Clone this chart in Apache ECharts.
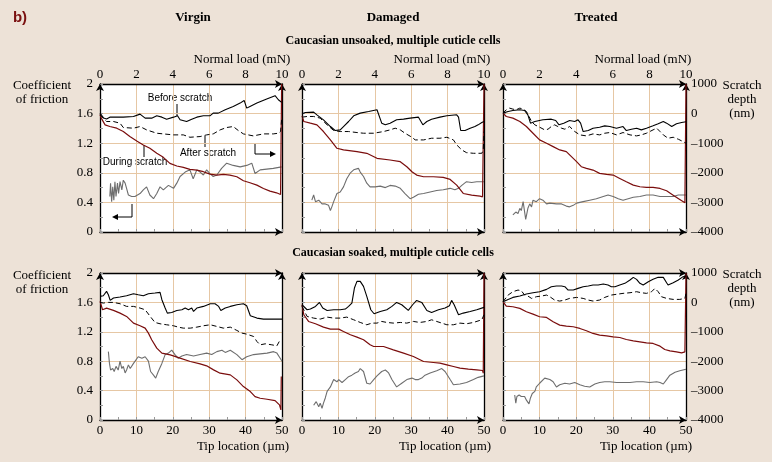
<!DOCTYPE html>
<html><head><meta charset="utf-8">
<script src="https://cdn.jsdelivr.net/npm/echarts@6/dist/echarts.min.js"></script>
<style>html,body{margin:0;padding:0;background:#ede2d7}#c{width:772px;height:462px}</style>
</head><body><div id="c"></div>
<script>
// ---------- labels ----------
const columnTitles = ['Virgin', 'Damaged', 'Treated'];
const rowTitles = ['Caucasian unsoaked, multiple cuticle cells', 'Caucasian soaked, multiple cuticle cells'];
const tipTicks = [0, 10, 20, 30, 40, 50];        // µm
const loadTicks = [0, 2, 4, 6, 8, 10];           // mN
const frictionTicks = [0, 0.4, 0.8, 1.2, 1.6, 2];
const depthTicks = [-4000, -3000, -2000, -1000, 0, 1000]; // nm

// ---------- data: [tip location µm, value] ----------
// Panel 1: unsoaked, virgin
const p1Before = [[0,16],[1.0,-150],[1.8,-180],[2.7,-120],[6.4,-120],[9.2,-97],[11.0,-18],[12.4,-154],[14.2,-154],[15.6,-75],[17.0,-120],[18.3,-188],[20.2,-120],[21.3,-75],[22.0,-210],[23.8,-267],[25.2,-188],[26.6,-120],[28.4,-75],[30.2,-75],[31.1,16],[32.5,16],[34.4,129],[36.6,242],[38.5,355],[39.6,445],[40.3,185],[41.2,242],[43.1,355],[45.8,491],[48.1,604],[49.0,468],[49.9,378]];
const p1After = [[0,-41],[1.8,-267],[3.7,-267],[5.5,-324],[6.4,-470],[9.2,-493],[11.0,-437],[12.8,-550],[15.6,-663],[17.4,-686],[20.2,-719],[22.9,-719],[24.7,-799],[27.5,-776],[29.3,-719],[31.1,-686],[33.0,-550],[34.8,-470],[36.6,-437],[38.0,-572],[39.4,-686],[42.1,-753],[44.9,-686],[47.6,-686],[49.0,-663],[49.6,-606],[49.9,-210]];
const p1During = [[0,-41],[0.5,-188],[1.4,-380],[2.7,-437],[4.6,-493],[6.4,-606],[8.2,-776],[10.1,-923],[11.9,-1058],[13.7,-1172],[15.6,-1341],[17.4,-1477],[19.2,-1681],[21.1,-1771],[22.9,-1816],[24.7,-1884],[26.6,-1907],[28.4,-1963],[30.2,-2043],[32.1,-2077],[33.9,-2054],[35.7,-2077],[37.6,-2133],[39.4,-2269],[41.2,-2337],[43.1,-2416],[44.9,-2529],[46.7,-2619],[48.5,-2676],[49.6,-2732],[49.9,1000]];
const p1Friction = [[2.7,0.48],[2.9,0.66],[3.2,0.41],[3.5,0.61],[3.8,0.43],[4.1,0.68],[4.4,0.48],[4.8,0.66],[5.1,0.52],[5.5,0.68],[6.0,0.57],[6.4,0.70],[6.9,0.66],[7.3,0.59],[7.8,0.50],[8.7,0.48],[9.6,0.48],[11.0,0.52],[11.9,0.57],[12.8,0.61],[13.7,0.50],[14.7,0.45],[15.6,0.52],[16.5,0.61],[17.4,0.57],[18.8,0.63],[20.2,0.59],[21.1,0.66],[22.0,0.75],[23.4,0.81],[24.7,0.84],[25.6,0.72],[26.6,0.84],[27.5,0.81],[28.4,0.77],[29.3,0.84],[30.2,0.79],[31.1,0.75],[32.1,0.77],[33.4,0.86],[34.8,0.93],[36.6,0.90],[38.5,0.88],[40.3,0.90],[41.7,0.93],[42.6,0.79],[44.0,0.84],[45.8,0.85],[47.6,0.86],[49.9,0.88]];

// Panel 2: unsoaked, damaged
const p2Before = [[0,-7],[0.9,38],[3.2,50],[4.1,-41],[5.9,-210],[7.8,-437],[9.1,-572],[10.5,-550],[11.4,-437],[12.8,-267],[14.2,-75],[16.0,16],[18.3,72],[20.6,129],[21.0,129],[21.9,-324],[22.9,-380],[24.2,-324],[26.0,-210],[27.9,-188],[29.7,-154],[32.0,-120],[32.4,-97],[33.2,-380],[34.3,-267],[35.6,-188],[37.9,-120],[39.8,-75],[42.5,-41],[43.0,-120],[43.6,-572],[44.8,-572],[46.2,-493],[47.5,-437],[48.4,-380],[49.4,-301],[50,-267]];
const p2After = [[0,-120],[1.4,-97],[3.2,-97],[5.0,-154],[6.9,-380],[8.7,-572],[10.5,-606],[12.8,-606],[15.1,-640],[16.9,-663],[19.7,-663],[22.4,-606],[24.2,-550],[25.6,-493],[27.0,-550],[28.3,-663],[30.2,-799],[31.1,-889],[33.4,-889],[35.6,-832],[37.9,-832],[39.8,-799],[41.6,-889],[42.5,-1058],[43.9,-1228],[45.2,-1319],[47.1,-1341],[49.4,-1341],[49.8,-1228],[50,-606]];
const p2During = [[0,-75],[0.5,-267],[2.3,-324],[4.1,-380],[5.9,-606],[7.8,-889],[9.6,-1172],[11.4,-1228],[15.1,-1285],[17.8,-1341],[20.6,-1511],[24.2,-1567],[27.0,-1624],[28.8,-1794],[30.2,-1963],[31.5,-2077],[33.4,-2133],[36.1,-2133],[38.8,-2156],[40.7,-2224],[42.5,-2416],[44.3,-2699],[46.6,-2756],[48.9,-2789],[49.6,-2812],[50,1000]];
const p2Friction = [[2.7,0.43],[3.2,0.50],[3.7,0.41],[4.6,0.43],[5.5,0.38],[6.4,0.38],[7.3,0.36],[7.8,0.29],[8.2,0.34],[8.7,0.41],[9.6,0.52],[10.5,0.54],[11.4,0.61],[12.3,0.72],[13.3,0.80],[14.2,0.84],[15.5,0.86],[16.0,0.81],[16.9,0.75],[17.8,0.66],[18.7,0.61],[20.1,0.61],[21.5,0.62],[22.9,0.60],[24.2,0.63],[25.6,0.62],[27.0,0.59],[28.3,0.52],[29.7,0.45],[30.6,0.47],[32.0,0.51],[33.4,0.52],[35.2,0.54],[37.0,0.56],[38.8,0.57],[40.7,0.59],[42.0,0.57],[43.0,0.59],[43.9,0.63],[45.2,0.68],[46.6,0.67],[48.0,0.68],[50,0.68]];

// Panel 3: unsoaked, treated
const p3Before = [[0,16],[1.4,72],[2.7,106],[4.6,129],[5.9,106],[6.8,-41],[7.5,-323],[8.7,-267],[9.1,-210],[10.9,-210],[13.2,-188],[14.4,-233],[15.3,-380],[16.6,-323],[18.2,-233],[19.6,-267],[20.5,-210],[21.2,-323],[21.9,-606],[23.3,-572],[24.6,-493],[26.4,-459],[27.8,-414],[29.2,-437],[31.0,-493],[32.8,-437],[33.7,-572],[35.1,-527],[36.5,-493],[37.8,-550],[39.2,-493],[41.0,-414],[42.4,-346],[43.8,-267],[44.7,-323],[46.1,-437],[47.4,-346],[48.8,-301],[50,-278]];
const p3After = [[0,16],[0.9,129],[1.8,185],[2.7,151],[3.6,129],[4.6,185],[5.5,151],[6.4,72],[7.1,-97],[7.8,-267],[8.7,-380],[10.0,-459],[11.4,-550],[12.3,-527],[13.2,-437],[14.1,-380],[15.0,-437],[16.0,-493],[16.9,-527],[18.2,-437],[19.6,-606],[21.0,-719],[22.8,-753],[24.6,-685],[26.4,-719],[27.8,-663],[29.2,-640],[31.0,-719],[32.8,-640],[34.7,-719],[36.5,-753],[37.8,-719],[39.2,-663],[41.0,-550],[42.0,-493],[42.9,-606],[43.8,-719],[45.1,-832],[46.5,-799],[47.9,-866],[49.2,-945],[50,-1002]];
const p3During = [[0,16],[0.9,-97],[2.7,-154],[4.6,-267],[6.4,-437],[8.2,-663],[10.0,-889],[11.9,-1002],[13.7,-1115],[15.5,-1228],[17.3,-1285],[18.7,-1454],[20.1,-1624],[21.4,-1794],[22.8,-1850],[24.6,-1907],[26.4,-2020],[28.3,-2054],[30.1,-2077],[31.9,-2190],[33.7,-2303],[35.6,-2416],[37.4,-2472],[39.2,-2495],[41.0,-2495],[42.9,-2529],[44.7,-2608],[46.5,-2755],[48.3,-2902],[49.7,-3015],[50,-3037],[50,1000]];
const p3Friction = [[2.7,0.23],[3.5,0.27],[4.1,0.25],[4.6,0.32],[5.0,0.29],[5.5,0.41],[6.2,0.17],[6.8,0.32],[7.3,0.38],[7.8,0.34],[8.2,0.43],[9.1,0.41],[10.0,0.45],[10.9,0.43],[11.9,0.38],[12.8,0.39],[14.6,0.38],[16.0,0.38],[17.3,0.35],[18.2,0.34],[19.2,0.36],[20.1,0.39],[21.9,0.41],[23.7,0.43],[25.5,0.45],[27.4,0.48],[28.7,0.50],[30.1,0.48],[31.5,0.45],[32.8,0.43],[34.2,0.45],[35.6,0.47],[37.4,0.48],[39.2,0.50],[41.0,0.50],[42.9,0.48],[44.7,0.48],[46.5,0.48],[47.9,0.50],[50,0.50]];

// Panel 4: soaked, virgin
const p4Before = [[0,204],[0.9,227],[1.8,375],[2.3,261],[2.8,68],[3.7,148],[5.5,182],[7.3,227],[9.2,295],[10.5,261],[11.9,227],[13.3,295],[15.1,318],[16.5,341],[17.0,91],[17.9,-193],[18.5,-364],[19.7,-341],[21.1,-273],[22.5,-250],[23.4,-193],[24.3,-250],[25.2,-193],[25.7,-307],[26.6,-193],[28.4,-136],[30.3,-45],[31.6,-45],[32.6,-136],[33.2,-273],[34.4,-193],[35.8,-136],[37.6,-80],[39.4,-45],[40.3,-114],[41.3,-454],[43.1,-534],[44.9,-568],[47.2,-568],[50,-568]];
const p4After = [[0,0],[0.9,-23],[2.3,0],[3.7,0],[5.5,-45],[7.3,-136],[9.2,-136],[11.0,-193],[12.4,-250],[13.8,-477],[15.1,-682],[16.5,-727],[18.3,-761],[20.2,-795],[21.5,-841],[22.9,-875],[24.8,-875],[26.6,-841],[28.4,-795],[30.3,-761],[32.1,-818],[33.9,-875],[35.8,-841],[37.6,-954],[39.0,-1045],[40.3,-1079],[42.2,-1159],[43.1,-1329],[44.0,-1443],[45.4,-1409],[47.2,-1443],[48.6,-1477],[49.5,-1272]];
const p4During = [[0,34],[0.7,-250],[1.8,-193],[3.7,-273],[5.5,-364],[7.3,-477],[9.2,-704],[11.0,-795],[12.4,-875],[13.3,-1045],[14.2,-1272],[15.6,-1556],[17.0,-1727],[19.3,-1784],[22.0,-1897],[24.8,-2011],[27.5,-2090],[29.3,-2158],[31.2,-2295],[33.0,-2408],[35.8,-2465],[37.6,-2636],[39.4,-2863],[41.3,-3034],[42.6,-3204],[44.0,-3261],[45.9,-3295],[48.1,-3340],[49.3,-3488],[49.7,-3658],[49.8,-2522]];
const p4Friction = [[2.3,0.93],[2.6,0.77],[2.9,0.68],[3.5,0.70],[3.9,0.66],[4.4,0.73],[5.0,0.68],[5.5,0.80],[6.0,0.70],[6.4,0.73],[6.9,0.64],[7.3,0.68],[7.8,0.75],[8.3,0.70],[9.2,0.77],[10.5,0.86],[11.5,0.84],[12.4,0.86],[13.3,0.80],[13.9,0.66],[14.7,0.61],[15.3,0.57],[16.0,0.66],[17.0,0.77],[17.9,0.89],[18.8,0.91],[19.7,0.95],[20.6,0.89],[21.5,0.84],[22.5,0.87],[23.8,0.89],[25.7,0.87],[27.5,0.89],[29.3,0.91],[30.7,0.89],[32.1,0.93],[33.5,0.95],[34.4,0.92],[35.8,0.95],[37.6,0.89],[39.0,0.82],[40.3,0.86],[42.2,0.89],[44.0,0.90],[45.9,0.91],[47.7,0.93],[48.6,0.91],[49.5,0.84],[50,0.80]];

// Panel 5: soaked, damaged
const p5Before = [[0,-80],[1.4,-250],[2.3,-227],[3.7,-136],[4.8,0],[5.7,-193],[6.9,-273],[8.7,-250],[10.5,-250],[11.9,-227],[12.8,-136],[13.7,-23],[14.4,488],[15.1,716],[16.0,716],[16.9,545],[17.8,204],[18.9,-250],[19.8,-386],[21.5,-307],[23.3,-250],[24.7,-136],[26.0,0],[27.4,-80],[29.2,-273],[30.4,-80],[31.5,68],[32.9,0],[34.3,-273],[35.6,-341],[37.5,-250],[39.3,-193],[40.5,-114],[41.1,68],[41.8,-80],[43.0,-420],[44.3,-364],[46.2,-307],[48.0,-250],[50,-170]];
const p5After = [[0,-136],[1.4,-477],[3.2,-534],[5.0,-568],[6.9,-500],[8.7,-534],[10.5,-534],[12.3,-500],[14.2,-591],[16.0,-682],[17.8,-761],[19.2,-704],[20.6,-704],[21.9,-648],[23.3,-682],[25.1,-704],[27.0,-682],[28.8,-704],[30.6,-648],[32.4,-682],[34.3,-648],[35.6,-591],[37.0,-648],[38.4,-704],[39.8,-761],[41.6,-761],[43.4,-704],[45.2,-727],[47.1,-682],[49.4,-591],[50,-420]];
const p5During = [[0,-80],[0.5,-420],[1.8,-648],[3.7,-727],[5.9,-841],[7.8,-909],[10.1,-909],[11.4,-988],[13.3,-1102],[15.1,-1181],[16.9,-1272],[18.7,-1443],[19.7,-1500],[22.4,-1500],[25.1,-1613],[27.9,-1727],[30.6,-1840],[33.4,-2011],[36.1,-2045],[37.9,-2068],[39.8,-2124],[41.6,-2181],[43.4,-2238],[45.7,-2272],[48.0,-2295],[49.6,-2317],[49.8,-2408],[50,1000]];
const p5Friction = [[3.2,0.20],[3.9,0.25],[4.6,0.18],[5.0,0.23],[5.5,0.16],[5.9,0.23],[6.4,0.30],[6.9,0.39],[7.8,0.45],[8.7,0.55],[9.6,0.52],[10.1,0.55],[11.0,0.51],[11.9,0.55],[12.8,0.59],[13.7,0.61],[14.6,0.64],[15.5,0.66],[16.0,0.70],[16.9,0.66],[17.8,0.50],[18.7,0.49],[19.7,0.55],[20.6,0.60],[21.9,0.66],[22.9,0.68],[23.8,0.64],[24.7,0.55],[26.0,0.45],[27.4,0.50],[28.8,0.55],[30.2,0.57],[31.1,0.55],[32.0,0.55],[32.9,0.57],[33.8,0.61],[35.2,0.64],[37.0,0.67],[38.4,0.70],[39.3,0.66],[40.7,0.55],[41.6,0.48],[43.4,0.49],[45.2,0.51],[47.1,0.55],[48.4,0.58],[50,0.60]];

// Panel 6: soaked, treated
const p6Before = [[0,23],[1.4,102],[2.7,170],[4.6,216],[6.4,284],[8.2,329],[10.0,364],[11.9,443],[13.2,534],[14.6,557],[16.0,557],[16.9,534],[17.8,420],[18.2,364],[19.2,420],[20.5,477],[21.9,534],[23.3,557],[24.6,591],[26.0,591],[27.4,625],[28.7,591],[29.6,534],[30.6,534],[31.9,591],[33.3,648],[34.7,761],[35.6,852],[36.5,784],[37.4,648],[38.3,591],[39.7,704],[41.0,784],[42.4,852],[43.8,852],[44.7,670],[45.1,591],[46.5,670],[47.9,761],[49.2,875],[50,897]];
const p6After = [[0,23],[1.4,250],[2.7,364],[4.1,420],[5.0,398],[5.9,250],[6.8,216],[7.8,136],[9.1,193],[10.5,216],[11.9,250],[12.8,193],[14.1,80],[15.5,45],[16.9,80],[18.2,136],[20.1,170],[21.9,136],[23.3,80],[24.6,45],[26.4,80],[27.8,170],[29.6,250],[31.5,284],[32.8,307],[34.7,329],[36.5,364],[37.8,329],[39.2,307],[40.6,364],[41.5,477],[42.4,364],[43.3,193],[44.7,136],[46.5,102],[48.3,102],[49.7,136],[50,307]];
const p6During = [[0,23],[0.9,-125],[2.7,-148],[4.6,-204],[6.4,-318],[8.2,-398],[10.0,-488],[11.9,-511],[13.7,-659],[15.5,-772],[17.3,-807],[19.2,-829],[21.0,-886],[22.8,-966],[24.6,-1056],[26.4,-1113],[28.3,-1136],[30.1,-1170],[31.9,-1193],[33.7,-1261],[35.6,-1306],[37.4,-1340],[39.2,-1375],[41.0,-1397],[42.9,-1488],[44.2,-1602],[45.6,-1647],[47.4,-1681],[48.8,-1715],[49.7,-1681],[50,1000]];
const p6Friction = [[3.2,0.34],[3.5,0.23],[3.8,0.32],[4.4,0.34],[5.0,0.32],[5.5,0.30],[5.9,0.32],[6.4,0.27],[7.1,0.22],[7.5,0.30],[8.0,0.36],[8.7,0.39],[9.1,0.45],[10.0,0.50],[11.4,0.57],[12.8,0.55],[13.7,0.52],[14.6,0.45],[15.5,0.48],[16.9,0.50],[18.2,0.49],[19.6,0.51],[21.0,0.48],[22.3,0.46],[23.7,0.45],[25.1,0.49],[26.4,0.51],[27.8,0.52],[29.2,0.52],[31.0,0.51],[32.8,0.51],[34.7,0.51],[36.5,0.52],[38.3,0.52],[40.1,0.51],[42.0,0.52],[42.9,0.51],[43.8,0.49],[44.7,0.55],[45.6,0.61],[47.0,0.65],[48.3,0.67],[50,0.69]];

const panels = [
  [p1Before, p1After, p1During, p1Friction],
  [p2Before, p2After, p2During, p2Friction],
  [p3Before, p3After, p3During, p3Friction],
  [p4Before, p4After, p4During, p4Friction],
  [p5Before, p5After, p5During, p5Friction],
  [p6Before, p6After, p6During, p6Friction]
];

// ---------- layout / style ----------
const SERIF = '"Liberation Serif", "DejaVu Serif", serif';
const gridColor = '#e6c7a4';
const gridBoxes = [
  {left: 100, top: 84, width: 182, height: 148},
  {left: 302, top: 84, width: 182, height: 148},
  {left: 503, top: 84, width: 183, height: 148},
  {left: 100, top: 273, width: 182, height: 147},
  {left: 302, top: 273, width: 182, height: 147},
  {left: 503, top: 273, width: 183, height: 147}
];
const axisLineStyle = {show: true, onZero: false, lineStyle: {color: '#000', width: 1.3}, symbol: ['none', 'arrow'], symbolSize: [6, 7]};
const innerTick = {show: true, inside: true, length: 3, lineStyle: {color: '#999', width: 1}};
const innerMinor = {show: true, splitNumber: 2, length: 3, lineStyle: {color: '#999', width: 1}};
const lblFont = {fontFamily: SERIF, fontSize: 13, color: '#000'};

const grid = [], xAxis = [], yAxis = [], series = [];
gridBoxes.forEach((g, i) => {
  const row = Math.floor(i / 3), col = i % 3;
  grid.push(Object.assign({show: true, backgroundColor: '#fff', borderWidth: 0}, g));
  // bottom: tip location
  xAxis.push({type: 'value', gridIndex: i, position: 'bottom', min: tipTicks[0], max: tipTicks[tipTicks.length - 1], interval: 10,
    axisLine: axisLineStyle, axisTick: innerTick, minorTick: innerMinor,
    axisLabel: Object.assign({show: row === 1, margin: 4}, lblFont),
    splitLine: {show: true, lineStyle: {color: gridColor, width: 1}}});
  // top: normal load
  xAxis.push({type: 'value', gridIndex: i, position: 'top', min: loadTicks[0], max: loadTicks[loadTicks.length - 1], interval: 2,
    axisLine: axisLineStyle, axisTick: {show: false},
    axisLabel: Object.assign({show: row === 0, margin: 3}, lblFont),
    splitLine: {show: false}});
  // left: friction
  yAxis.push({type: 'value', gridIndex: i, position: 'left', min: frictionTicks[0], max: frictionTicks[frictionTicks.length - 1], interval: 0.4,
    axisLine: axisLineStyle, axisTick: innerTick, minorTick: innerMinor,
    axisLabel: Object.assign({show: col === 0, margin: 7}, lblFont),
    splitLine: {show: true, lineStyle: {color: gridColor, width: 1}}});
  // right: depth
  yAxis.push({type: 'value', gridIndex: i, position: 'right', min: depthTicks[0], max: depthTicks[depthTicks.length - 1], interval: 1000,
    axisLine: axisLineStyle, axisTick: {show: false},
    axisLabel: Object.assign({show: col === 2, margin: 5, formatter: v => v < 0 ? '\u2013' + (-v) : String(v)}, lblFont),
    splitLine: {show: false}});
  const [before, after, during, fric] = panels[i];
  const base = {type: 'line', showSymbol: false, symbol: 'none', xAxisIndex: 2 * i, animation: false, silent: true};
  series.push(Object.assign({}, base, {name: 'Friction', yAxisIndex: 2 * i, data: fric, lineStyle: {color: '#6e6e6e', width: 1.1}}));
  series.push(Object.assign({}, base, {name: 'During scratch', yAxisIndex: 2 * i + 1, data: during, lineStyle: {color: '#7a0d0d', width: 1.2}}));
  series.push(Object.assign({}, base, {name: 'After scratch', yAxisIndex: 2 * i + 1, data: after, lineStyle: {color: '#000', width: 1, type: [5, 3]}}));
  series.push(Object.assign({}, base, {name: 'Before scratch', yAxisIndex: 2 * i + 1, data: before, lineStyle: {color: '#000', width: 1.1}}));
});

// ---------- texts ----------
const txt = (x, y, s, o) => ({type: 'text', x, y, style: Object.assign({text: s, font: '13px ' + SERIF, fill: '#000', align: 'center', verticalAlign: 'middle'}, o || {})});
const graphic = [
  txt(20, 18, 'b)', {font: 'bold 15px "Liberation Sans", Arial, sans-serif', fill: '#7a1010'}),
  txt(193, 18, columnTitles[0], {font: 'bold 13px ' + SERIF}),
  txt(393, 18, columnTitles[1], {font: 'bold 13px ' + SERIF}),
  txt(596, 18, columnTitles[2], {font: 'bold 13px ' + SERIF}),
  txt(393, 41, rowTitles[0], {font: 'bold 12px ' + SERIF}),
  txt(393, 253, rowTitles[1], {font: 'bold 12px ' + SERIF}),
  txt(242, 60, 'Normal load (mN)'), txt(442, 60, 'Normal load (mN)'), txt(643, 60, 'Normal load (mN)'),
  txt(42, 86, 'Coefficient'), txt(42, 100, 'of friction'),
  txt(42, 276, 'Coefficient'), txt(42, 290, 'of friction'),
  txt(742, 86, 'Scratch'), txt(742, 100, 'depth'), txt(742, 114, '(nm)'),
  txt(742, 275, 'Scratch'), txt(742, 289, 'depth'), txt(742, 303, '(nm)'),
  txt(243, 447, 'Tip location (\u00b5m)'), txt(445, 447, 'Tip location (\u00b5m)'), txt(646, 447, 'Tip location (\u00b5m)'),
  // annotations in the first panel
  txt(180, 98, 'Before scratch', {font: '10px "Liberation Sans", Arial, sans-serif'}),
  txt(208, 153, 'After scratch', {font: '10px "Liberation Sans", Arial, sans-serif'}),
  txt(135, 162, 'During scratch', {font: '10px "Liberation Sans", Arial, sans-serif'}),
  {type: 'polyline', shape: {points: [[177, 104], [177, 116]]}, style: {stroke: '#000', lineWidth: 1, fill: null}},
  {type: 'polyline', shape: {points: [[205, 136], [205, 147]]}, style: {stroke: '#000', lineWidth: 1, fill: null}},
  {type: 'polyline', shape: {points: [[144, 145], [144, 157]]}, style: {stroke: '#000', lineWidth: 1, fill: null}},
  {type: 'polyline', shape: {points: [[255, 143], [255, 154], [272, 154]]}, style: {stroke: '#000', lineWidth: 1, fill: null}},
  {type: 'polygon', shape: {points: [[276, 154], [270, 151], [270, 157]]}, style: {fill: '#000'}},
  {type: 'polyline', shape: {points: [[132, 204], [132, 217], [116, 217]]}, style: {stroke: '#000', lineWidth: 1, fill: null}},
  {type: 'polygon', shape: {points: [[112, 217], [118, 214], [118, 220]]}, style: {fill: '#000'}}
];

const chart = echarts.init(document.getElementById('c'), null, {renderer: 'canvas'});
chart.setOption({backgroundColor: '#ede2d7', animation: false, grid, xAxis, yAxis, series, graphic});
</script>
</body></html>
